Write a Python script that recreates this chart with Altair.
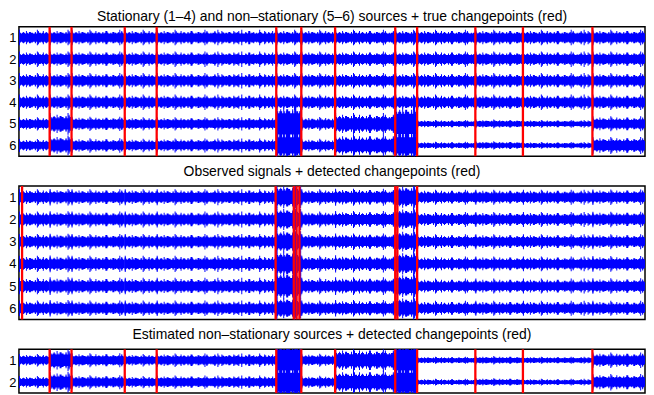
import altair as alt
import pandas as pd

N = 10000
# changepoints (sample index)
true_cps = [490, 840, 1690, 2200, 4110, 4510, 5050, 6010, 6360, 7290, 8050, 9160]
detected_obs_cps = [50, 4100, 4390, 4435, 4480, 6010, 6045, 6360]
detected_est_cps = [490, 840, 1690, 2200, 4110, 4510, 5050, 6010, 6360, 7290, 8050, 9160]

# visible band half-width (units of row spacing) per segment between true changepoints
src_amp_1 = [0.30, 0.30, 0.30, 0.30, 0.30, 0.30, 0.30, 0.30, 0.30, 0.30, 0.30, 0.30, 0.30]
src_amp_2 = [0.30, 0.30, 0.30, 0.30, 0.30, 0.30, 0.30, 0.30, 0.30, 0.30, 0.30, 0.30, 0.30]
src_amp_3 = [0.30, 0.30, 0.30, 0.30, 0.30, 0.30, 0.30, 0.30, 0.30, 0.30, 0.30, 0.30, 0.30]
src_amp_4 = [0.30, 0.30, 0.30, 0.30, 0.30, 0.30, 0.30, 0.30, 0.30, 0.30, 0.30, 0.30, 0.30]
src_amp_5 = [0.26, 0.42, 0.28, 0.26, 0.26, 0.78, 0.27, 0.42, 0.75, 0.15, 0.17, 0.15, 0.29]
src_amp_6 = [0.25, 0.38, 0.28, 0.26, 0.27, 0.60, 0.26, 0.42, 0.60, 0.14, 0.16, 0.13, 0.33]

obs_amp_1 = [0.31, 0.32, 0.31, 0.31, 0.31, 0.50, 0.31, 0.33, 0.48, 0.29, 0.29, 0.29, 0.30]
obs_amp_2 = [0.31, 0.32, 0.31, 0.31, 0.31, 0.48, 0.31, 0.33, 0.45, 0.29, 0.29, 0.29, 0.30]
obs_amp_3 = [0.30, 0.31, 0.30, 0.30, 0.30, 0.48, 0.30, 0.32, 0.45, 0.29, 0.29, 0.29, 0.29]
obs_amp_4 = [0.31, 0.32, 0.31, 0.31, 0.31, 0.55, 0.31, 0.33, 0.48, 0.29, 0.29, 0.29, 0.30]
obs_amp_5 = [0.32, 0.34, 0.32, 0.32, 0.32, 0.60, 0.32, 0.34, 0.50, 0.29, 0.29, 0.29, 0.30]
obs_amp_6 = [0.30, 0.32, 0.30, 0.30, 0.30, 0.45, 0.30, 0.32, 0.45, 0.29, 0.29, 0.29, 0.29]

est_amp_1 = [0.24, 0.42, 0.27, 0.24, 0.26, 0.75, 0.25, 0.45, 0.75, 0.14, 0.16, 0.14, 0.30]
est_amp_2 = [0.24, 0.40, 0.27, 0.24, 0.26, 0.70, 0.25, 0.45, 0.70, 0.13, 0.15, 0.13, 0.32]

titles = [
    "Stationary (1–4) and non–stationary (5–6) sources + true changepoints (red)",
    "Observed signals + detected changepoints (red)",
    "Estimated non–stationary sources + detected changepoints (red)",
]

FONT = "Liberation Sans"
BLUE = "#0000ff"
RED = "#ff0000"
ROW_PX = 22.0

# (width factor, dash pattern) layers that give the noisy band its jagged edge
LAYERS = [
    (0.62, None),
    (0.74, [2, 1, 3, 2, 1, 1, 4, 2, 1, 3, 2, 1]),
    (0.86, [1, 3, 1, 5, 2, 4, 1, 2, 1, 7, 1, 3]),
    (1.00, [1, 6, 1, 11, 1, 4, 1, 9, 2, 14, 1, 7]),
    (1.18, [1, 17, 1, 29, 1, 12, 1, 23]),
]


def band_table(rows_amps):
    bounds = [0] + true_cps + [N]
    recs = []
    for r, amps in enumerate(rows_amps, start=1):
        for s, a in enumerate(amps):
            recs.append({"row": r, "x0": bounds[s], "x1": bounds[s + 1], "a": a})
    return pd.DataFrame(recs)


def panel(rows_amps, cps, title, height, title_offset):
    nrows = len(rows_amps)
    df = band_table(rows_amps)
    xs = alt.Scale(domain=[0, N], nice=False, zero=False)
    ys = alt.Scale(domain=[0.5, nrows + 0.5], reverse=True, nice=False, zero=False)
    ss = alt.Scale(type="linear", domain=[0, 1], range=[0, 2 * ROW_PX], zero=True)
    yaxis = alt.Axis(values=list(range(1, nrows + 1)), format="d", title=None,
                     ticks=False, domain=False, grid=False, labelFontSize=13,
                     labelPadding=3, labelColor="black", labelFont=FONT)
    layers = []
    for f, dash in LAYERS:
        kw = dict(clip=True, color=BLUE, strokeCap="butt")
        if dash:
            kw["strokeDash"] = dash
        lay = alt.Chart(df).transform_calculate(
            w=f"datum.a * {f}"
        ).mark_rule(**kw).encode(
            x=alt.X("x0:Q", scale=xs, axis=None), x2="x1:Q",
            y=alt.Y("row:Q", scale=ys, axis=yaxis),
            size=alt.Size("w:Q", scale=ss, legend=None),
        )
        layers.append(lay)
    rules = alt.Chart(pd.DataFrame({"cp": cps})).mark_rule(
        color=RED, strokeWidth=2.3).encode(x=alt.X("cp:Q", scale=xs, axis=None))
    layers.append(rules)
    return alt.layer(*layers).properties(
        width=629, height=height,
        title=alt.TitleParams(title, fontSize=14, font=FONT, fontWeight="normal",
                              color="black", offset=title_offset))


p1 = panel([src_amp_1, src_amp_2, src_amp_3, src_amp_4, src_amp_5, src_amp_6],
           true_cps, titles[0], 130, 2)
p2 = panel([obs_amp_1, obs_amp_2, obs_amp_3, obs_amp_4, obs_amp_5, obs_amp_6],
           detected_obs_cps, titles[1], 134, 6)
p3 = panel([est_amp_1, est_amp_2], detected_est_cps, titles[2], 44, 6)

chart = alt.vconcat(p1, p2, p3, spacing=6).properties(
    padding={"left": 0, "top": 0, "right": 0, "bottom": 0},
    background="white",
).configure_view(stroke="#000000", strokeWidth=1.5)

chart.save("out.html", embed_options={"renderer": "svg", "actions": False})
